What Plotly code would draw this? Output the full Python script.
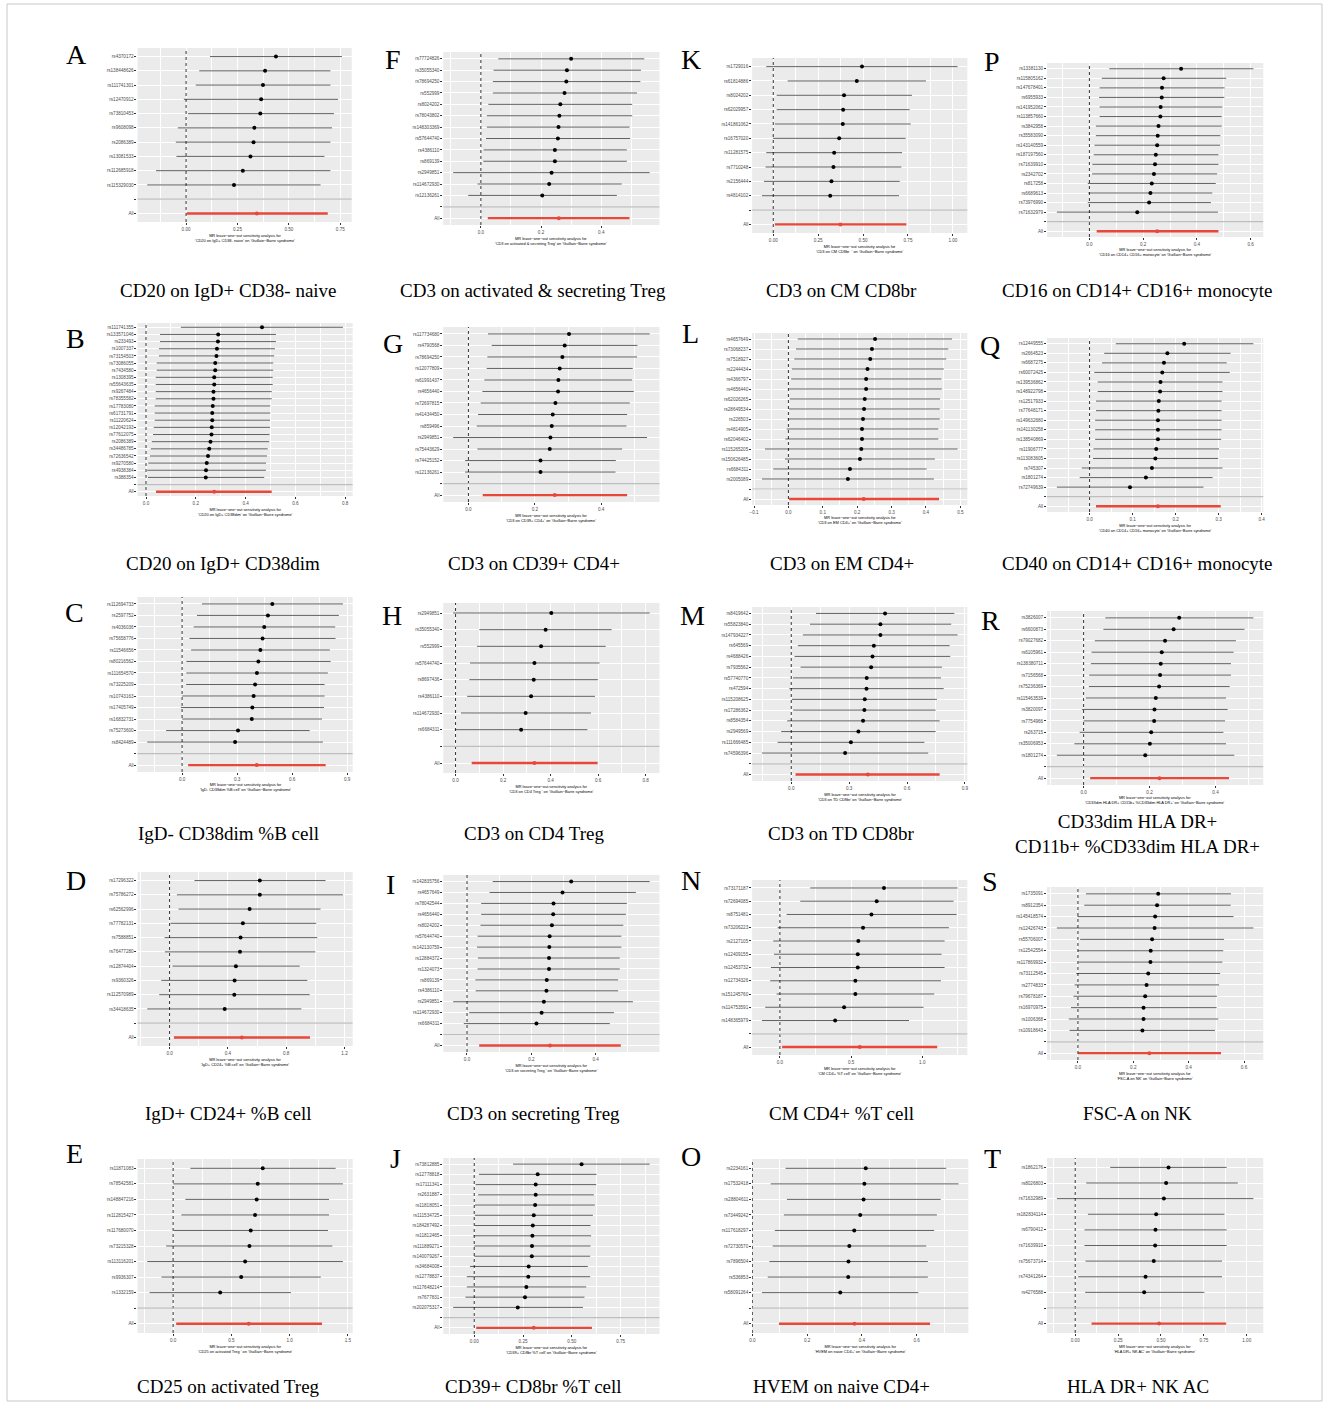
import plotly.graph_objects as go

W, H = 1328, 1405

# ---------------- data (leave-one-out estimates: b, lower CI, upper CI) ----------------
A_snp = ["rs4370172", "rs138448626", "rs111741301", "rs12470912", "rs73810453", "rs9608098", "rs2086389", "rs13081533", "rs112685918", "rs115329030"]
A_b = [0.437, 0.384, 0.374, 0.365, 0.361, 0.332, 0.328, 0.313, 0.276, 0.233]
A_lo = [0.116, 0.064, 0.047, -0.011, 0.010, -0.040, -0.050, -0.047, -0.146, -0.189]
A_hi = [0.758, 0.702, 0.702, 0.739, 0.719, 0.710, 0.702, 0.673, 0.702, 0.654]
A_all = [0.344, 0.003, 0.689]

B_snp = ["rs111741355", "rs133571046", "rs233493", "rs1007337", "rs73154503", "rs73086055", "rs7434580", "rs1308395", "rs55643635", "rs9267484", "rs78355582", "rs17783080", "rs61731791", "rs11220624", "rs12042193", "rs77612075", "rs2086389", "rs34486785", "rs72636542", "rs9270580", "rs4938384", "rs388354"]
B_b = [0.466, 0.290, 0.289, 0.285, 0.283, 0.278, 0.278, 0.274, 0.274, 0.271, 0.271, 0.268, 0.266, 0.266, 0.264, 0.263, 0.259, 0.254, 0.249, 0.244, 0.241, 0.240]
B_lo = [0.140, 0.056, 0.056, 0.052, 0.052, 0.043, 0.043, 0.039, 0.039, 0.039, 0.039, 0.035, 0.035, 0.035, 0.031, 0.028, 0.023, 0.019, 0.016, 0.009, 0.005, 0.008]
B_hi = [0.791, 0.522, 0.522, 0.518, 0.515, 0.511, 0.511, 0.509, 0.509, 0.505, 0.505, 0.499, 0.499, 0.498, 0.498, 0.496, 0.495, 0.489, 0.486, 0.482, 0.482, 0.475]
B_all = [0.274, 0.040, 0.505]

C_snp = ["rs112694733", "rs2597752", "rs4036036", "rs75658776", "rs11546656", "rs80216562", "rs111654570", "rs73225209", "rs10743163", "rs17405749", "rs16832731", "rs75273600", "rs8424489"]
C_b = [0.492, 0.468, 0.448, 0.439, 0.427, 0.416, 0.408, 0.398, 0.390, 0.383, 0.380, 0.305, 0.289]
C_lo = [0.108, 0.081, 0.063, 0.040, 0.049, 0.023, 0.023, 0.022, 0.000, -0.007, 0.000, -0.087, -0.190]
C_hi = [0.877, 0.855, 0.835, 0.837, 0.806, 0.810, 0.795, 0.777, 0.777, 0.774, 0.763, 0.696, 0.768]
C_all = [0.407, 0.033, 0.783]

D_snp = ["rs17296322", "rs75786272", "rs62562996", "rs77782131", "rs7588851", "rs76477280", "rs12874404", "rs9360326", "rs112570989", "rs34418635"]
D_b = [0.619, 0.619, 0.549, 0.503, 0.487, 0.483, 0.455, 0.446, 0.444, 0.378]
D_lo = [0.171, 0.050, 0.061, 0.007, -0.034, -0.032, 0.020, -0.057, -0.071, -0.153]
D_hi = [1.070, 1.189, 1.036, 1.006, 1.013, 1.000, 0.893, 0.945, 0.961, 0.904]
D_all = [0.496, 0.030, 0.963]

E_snp = ["rs11871083", "rs78542581", "rs148847216", "rs112815427", "rs117680070", "rs73215328", "rs113116201", "rs9936307", "rs1332159"]
E_b = [0.769, 0.726, 0.717, 0.703, 0.666, 0.655, 0.618, 0.584, 0.404]
E_lo = [0.148, 0.000, 0.105, 0.071, 0.006, -0.060, -0.222, -0.100, -0.202]
E_hi = [1.395, 1.457, 1.338, 1.338, 1.329, 1.366, 1.457, 1.267, 1.011]
E_all = [0.649, 0.026, 1.278]

F_snp = ["rs77724826", "rs35055340", "rs78694250", "rs552999", "rs8024202", "rs78043802", "rs148303369", "rs57644740", "rs4386110", "rs869139", "rs2949851", "rs114672930", "rs12136261"]
F_b = [0.300, 0.286, 0.284, 0.278, 0.264, 0.261, 0.258, 0.256, 0.246, 0.246, 0.235, 0.227, 0.204]
F_lo = [0.058, 0.042, 0.040, 0.040, 0.025, 0.020, 0.020, 0.017, 0.009, 0.008, -0.092, -0.011, -0.042]
F_hi = [0.543, 0.532, 0.530, 0.519, 0.503, 0.503, 0.494, 0.496, 0.485, 0.485, 0.561, 0.468, 0.452]
F_all = [0.259, 0.023, 0.494]

G_snp = ["rs117734680", "rs4790568", "rs78694250", "rs12077809", "rs61991437", "rs4656440", "rs72697815", "rs41434450", "rs859496", "rs2949851", "rs75443629", "rs74425152", "rs12136261"]
G_b = [0.303, 0.290, 0.283, 0.275, 0.271, 0.270, 0.262, 0.254, 0.251, 0.247, 0.245, 0.217, 0.217]
G_lo = [0.059, 0.070, 0.057, 0.055, 0.048, 0.042, 0.037, 0.029, 0.025, -0.046, 0.027, -0.010, -0.010]
G_hi = [0.546, 0.509, 0.508, 0.495, 0.493, 0.498, 0.486, 0.478, 0.476, 0.538, 0.463, 0.444, 0.443]
G_all = [0.260, 0.043, 0.478]

H_snp = ["rs2949851", "rs35055340", "rs552999", "rs57644740", "rs8697436", "rs4386110", "rs114672930", "rs6684311"]
H_b = [0.403, 0.379, 0.360, 0.332, 0.329, 0.318, 0.295, 0.276]
H_lo = [-0.010, 0.100, 0.090, 0.061, 0.058, 0.049, 0.023, -0.003]
H_hi = [0.817, 0.657, 0.632, 0.606, 0.599, 0.587, 0.570, 0.555]
H_all = [0.332, 0.068, 0.598]

I_snp = ["rs142835756", "rs4657649", "rs78042544", "rs4656440", "rs8024202", "rs57644740", "rs142130759", "rs12884372", "rs1324073", "rs869139", "rs4386110", "rs2949851", "rs114672930", "rs6684311"]
I_b = [0.324, 0.297, 0.269, 0.268, 0.264, 0.257, 0.256, 0.255, 0.255, 0.248, 0.247, 0.239, 0.232, 0.216]
I_lo = [0.080, 0.070, 0.044, 0.044, 0.042, 0.033, 0.031, 0.034, 0.033, 0.026, 0.027, -0.043, 0.007, -0.010]
I_hi = [0.568, 0.525, 0.497, 0.494, 0.486, 0.480, 0.480, 0.475, 0.475, 0.470, 0.470, 0.516, 0.457, 0.444]
I_all = [0.258, 0.038, 0.478]

J_snp = ["rs73812885", "rs12778818", "rs17111341", "rs2631887", "rs11818051", "rs111534725", "rs184287492", "rs11812465", "rs111889271", "rs140079267", "rs34684008", "rs12778837", "rs117648214", "rs7677831", "rs202075317"]
J_b = [0.550, 0.325, 0.315, 0.315, 0.312, 0.305, 0.300, 0.298, 0.296, 0.295, 0.279, 0.277, 0.267, 0.260, 0.223]
J_lo = [0.199, 0.024, 0.007, 0.019, 0.003, 0.003, 0.003, -0.003, 0.000, 0.000, -0.022, -0.038, -0.038, -0.045, -0.108]
J_hi = [0.899, 0.627, 0.625, 0.613, 0.618, 0.608, 0.596, 0.599, 0.596, 0.594, 0.582, 0.594, 0.574, 0.565, 0.557]
J_all = [0.305, 0.010, 0.603]

K_snp = ["rs1729016", "rs61814886", "rs8024202", "rs62029957", "rs141861062", "rs16757020", "rs11281575", "rs7710248", "rs2156444", "rs4814102"]
K_b = [0.494, 0.465, 0.394, 0.389, 0.387, 0.367, 0.339, 0.335, 0.324, 0.317]
K_lo = [-0.039, 0.080, 0.019, 0.019, 0.009, -0.002, -0.039, -0.043, -0.052, -0.063]
K_hi = [1.026, 0.850, 0.772, 0.759, 0.765, 0.737, 0.717, 0.713, 0.704, 0.700]
K_all = [0.374, 0.009, 0.741]

L_snp = ["rs4657649", "rs73068237", "rs7518927", "rs2244434", "rs4366797", "rs4656440", "rs62026265", "rs28649534", "rs226503", "rs4814905", "rs62046402", "rs115265205", "rs150626485", "rs6684311", "rs2005089"]
L_b = [0.252, 0.243, 0.238, 0.230, 0.226, 0.226, 0.222, 0.220, 0.217, 0.214, 0.214, 0.212, 0.208, 0.179, 0.173]
L_lo = [0.027, 0.022, 0.017, 0.010, 0.008, 0.002, 0.004, 0.002, -0.002, -0.005, -0.009, -0.068, -0.010, -0.044, -0.077]
L_hi = [0.476, 0.465, 0.459, 0.452, 0.445, 0.446, 0.441, 0.440, 0.440, 0.436, 0.436, 0.492, 0.426, 0.402, 0.423]
L_all = [0.219, 0.002, 0.438]

M_snp = ["rs8419642", "rs55823840", "rs147934227", "rs645569", "rs4688426", "rs7935562", "rs57740770", "rs472594", "rs115208625", "rs17286362", "rs8584354", "rs2949569", "rs111666485", "rs74596396"]
M_b = [0.486, 0.462, 0.462, 0.428, 0.421, 0.414, 0.391, 0.390, 0.381, 0.379, 0.372, 0.348, 0.309, 0.279]
M_lo = [0.128, 0.097, 0.060, 0.034, 0.017, 0.048, 0.009, -0.010, 0.003, 0.010, -0.021, -0.052, -0.071, -0.152]
M_hi = [0.845, 0.829, 0.862, 0.821, 0.824, 0.781, 0.776, 0.790, 0.755, 0.748, 0.769, 0.748, 0.690, 0.710]
M_all = [0.397, 0.022, 0.769]

N_snp = ["rs73171187", "rs72694085", "rs8751481", "rs73206223", "rs2127105", "rs12409155", "rs12453732", "rs12734326", "rs151245760", "rs114753591", "rs148365979"]
N_b = [0.731, 0.680, 0.643, 0.584, 0.551, 0.547, 0.547, 0.530, 0.530, 0.451, 0.388]
N_lo = [0.213, 0.143, 0.047, -0.016, -0.047, -0.042, -0.063, -0.068, -0.023, -0.103, -0.126]
N_hi = [1.248, 1.220, 1.241, 1.187, 1.157, 1.136, 1.157, 1.131, 1.084, 1.009, 0.907]
N_all = [0.561, 0.016, 1.105]

O_snp = ["rs2234161", "rs17532418", "rs28804611", "rs73449242", "rs117618297", "rs72730570", "rs7896504", "rs536853", "rs58091264"]
O_b = [0.414, 0.409, 0.406, 0.394, 0.372, 0.354, 0.351, 0.350, 0.321]
O_lo = [0.121, 0.067, 0.126, 0.115, 0.082, 0.074, 0.062, 0.056, 0.035]
O_hi = [0.708, 0.753, 0.688, 0.674, 0.664, 0.635, 0.641, 0.641, 0.606]
O_all = [0.373, 0.097, 0.649]

P_snp = ["rs13381130", "rs115805162", "rs147678401", "rs6955933", "rs141952062", "rs113857660", "rs3842958", "rs35583090", "rs143140559", "rs187197560", "rs71639910", "rs2342702", "rs817258", "rs6689613", "rs73976990", "rs71632979"]
P_b = [0.341, 0.276, 0.270, 0.269, 0.265, 0.264, 0.257, 0.254, 0.252, 0.247, 0.244, 0.240, 0.232, 0.227, 0.222, 0.178]
P_lo = [0.074, 0.046, 0.038, 0.036, 0.038, 0.038, 0.024, 0.024, 0.019, 0.016, 0.011, 0.010, -0.006, -0.004, -0.006, -0.121]
P_hi = [0.610, 0.509, 0.503, 0.502, 0.494, 0.492, 0.492, 0.487, 0.486, 0.480, 0.480, 0.475, 0.470, 0.457, 0.452, 0.478]
P_all = [0.252, 0.027, 0.480]

Q_snp = ["rs12449555", "rs2664523", "rs6687275", "rs60072425", "rs139536862", "rs148922798", "rs12517933", "rs77648171", "rs149632680", "rs141130258", "rs138540869", "rs11906777", "rs113083605", "rs745307", "rs1801274", "rs72749639"]
Q_b = [0.220, 0.181, 0.173, 0.169, 0.165, 0.164, 0.161, 0.160, 0.159, 0.159, 0.159, 0.155, 0.153, 0.145, 0.131, 0.094]
Q_lo = [0.061, 0.034, 0.029, 0.011, 0.019, 0.019, 0.015, 0.015, 0.013, 0.013, 0.013, 0.009, 0.008, -0.018, -0.023, -0.076]
Q_hi = [0.381, 0.328, 0.319, 0.326, 0.309, 0.309, 0.307, 0.307, 0.307, 0.307, 0.306, 0.301, 0.299, 0.309, 0.286, 0.265]
Q_all = [0.159, 0.015, 0.305]

R_snp = ["rs3826007", "rs6600873", "rs79027682", "rs6105961", "rs138380711", "rs7156568", "rs75236369", "rs115463539", "rs3820097", "rs7754966", "rs263715", "rs35006953", "rs1801274"]
R_b = [0.290, 0.273, 0.247, 0.237, 0.234, 0.232, 0.229, 0.219, 0.215, 0.214, 0.205, 0.201, 0.187]
R_lo = [0.066, 0.060, 0.034, 0.024, 0.022, 0.017, 0.016, 0.007, -0.005, 0.000, -0.012, -0.028, -0.081]
R_hi = [0.515, 0.488, 0.462, 0.455, 0.447, 0.447, 0.443, 0.432, 0.437, 0.429, 0.424, 0.432, 0.457]
R_all = [0.230, 0.020, 0.441]

S_snp = ["rs1735091", "rs8912354", "rs145418574", "rs12426743", "rs55706007", "rs12542554", "rs117869932", "rs73112545", "rs2774833", "rs79678187", "rs16970975", "rs1006368", "rs10918643"]
S_b = [0.290, 0.286, 0.279, 0.277, 0.268, 0.263, 0.262, 0.254, 0.248, 0.243, 0.237, 0.237, 0.233]
S_lo = [0.029, 0.023, -0.002, -0.076, 0.008, 0.000, 0.002, -0.006, -0.012, -0.016, -0.025, -0.033, -0.030]
S_hi = [0.553, 0.552, 0.562, 0.634, 0.528, 0.525, 0.522, 0.514, 0.510, 0.502, 0.501, 0.507, 0.495]
S_all = [0.258, 0.001, 0.517]

T_snp = ["rs1862176", "rs8026803", "rs71632989", "rs182834114", "rs6790412", "rs71639910", "rs75673714", "rs74341264", "rs4276588"]
T_b = [0.544, 0.530, 0.517, 0.472, 0.468, 0.466, 0.458, 0.410, 0.402]
T_lo = [0.204, 0.064, -0.107, 0.074, 0.054, 0.054, 0.060, 0.017, 0.058]
T_hi = [0.883, 0.948, 1.039, 0.870, 0.883, 0.883, 0.856, 0.856, 0.753]
T_all = [0.489, 0.095, 0.880]

OUTCOME = "Guillain\u2212Barre syndrome"

panels = [
    ("A", A_snp, A_b, A_lo, A_hi, A_all, "CD20 on IgD+ CD38- naive", "CD20 on IgD+ CD38- naive", 0.25, ".2f", (135, 48, 350, 222), (74, 55), (226, 290)),
    ("B", B_snp, B_b, B_lo, B_hi, B_all, "CD20 on IgD+ CD38dim", "CD20 on IgD+ CD38dim", 0.2, ".1f", (135, 323, 351, 496), (73, 338), (221, 563)),
    ("C", C_snp, C_b, C_lo, C_hi, C_all, "IgD- CD38dim %B cell", "IgD- CD38dim %B cell", 0.3, ".1f", (135, 597, 351, 772), (72, 612), (226, 833)),
    ("D", D_snp, D_b, D_lo, D_hi, D_all, "IgD+ CD24+ %B cell", "IgD+ CD24+ %B cell", 0.4, ".1f", (135, 872, 351, 1046), (73, 880), (226, 1113)),
    ("E", E_snp, E_b, E_lo, E_hi, E_all, "CD25 on activated Treg", "CD25 on activated Treg ", 0.5, ".1f", (135, 1159, 351, 1333), (72, 1153), (226, 1386)),
    ("F", F_snp, F_b, F_lo, F_hi, F_all, "CD3 on activated & secreting Treg", "CD3 on activated & secreting Treg", 0.2, ".1f", (442, 52, 659, 225), (391, 60), (532, 290)),
    ("G", G_snp, G_b, G_lo, G_hi, G_all, "CD3 on CD39+ CD4+", "CD3 on CD39+ CD4+", 0.2, ".1f", (442, 327, 659, 502), (391, 343), (533, 563)),
    ("H", H_snp, H_b, H_lo, H_hi, H_all, "CD3 on CD4 Treg", "CD3 on CD4 Treg ", 0.2, ".1f", (442, 603, 659, 773), (390, 615), (533, 833)),
    ("I", I_snp, I_b, I_lo, I_hi, I_all, "CD3 on secreting Treg", "CD3 on secreting Treg ", 0.2, ".1f", (442, 875, 659, 1052), (389, 884), (533, 1113)),
    ("J", J_snp, J_b, J_lo, J_hi, J_all, "CD39+ CD8br %T cell", "CD39+ CD8br %T cell", 0.25, ".2f", (442, 1158, 659, 1334), (394, 1158), (533, 1386)),
    ("K", K_snp, K_b, K_lo, K_hi, K_all, "CD3 on CM CD8br", "CD3 on CM CD8br  ", 0.25, ".2f", (752, 58, 968, 233), (691, 60), (842, 290)),
    ("L", L_snp, L_b, L_lo, L_hi, L_all, "CD3 on EM CD4+", "CD3 on EM CD4+", 0.1, ".1f", (752, 333, 968, 505), (690, 333), (842, 563)),
    ("M", M_snp, M_b, M_lo, M_hi, M_all, "CD3 on TD CD8br", "CD3 on TD CD8br", 0.3, ".1f", (752, 607, 968, 781), (692, 615), (842, 833)),
    ("N", N_snp, N_b, N_lo, N_hi, N_all, "CM CD4+ %T cell", "CM CD4+ %T cell", 0.5, ".1f", (752, 880, 968, 1055), (691, 880), (842, 1113)),
    ("O", O_snp, O_b, O_lo, O_hi, O_all, "HVEM on naive CD4+", "HVEM on naive CD4+", 0.2, ".1f", (752, 1159, 969, 1333), (691, 1156), (842, 1386)),
    ("P", P_snp, P_b, P_lo, P_hi, P_all, "CD16 on CD14+ CD16+ monocyte", "CD16 on CD14+ CD16+ monocyte", 0.2, ".1f", (1048, 63, 1265, 237), (993, 62), (1139, 290)),
    ("Q", Q_snp, Q_b, Q_lo, Q_hi, Q_all, "CD40 on CD14+ CD16+ monocyte", "CD40 on CD14+ CD16+ monocyte", 0.1, ".1f", (1048, 338, 1265, 512), (991, 345), (1139, 563)),
    ("R", R_snp, R_b, R_lo, R_hi, R_all, "CD33dim HLA DR+<br>CD11b+ %CD33dim HLA DR+", "CD33dim HLA DR+ CD11b+ %CD33dim HLA DR+", 0.2, ".1f", (1048, 611, 1265, 785), (991, 620), (1139, 834)),
    ("S", S_snp, S_b, S_lo, S_hi, S_all, "FSC-A on NK", "FSC-A on NK", 0.2, ".1f", (1048, 887, 1265, 1060), (991, 882), (1139, 1113)),
    ("T", T_snp, T_b, T_lo, T_hi, T_all, "HLA DR+ NK AC", "HLA DR+ NK AC", 0.25, ".2f", (1048, 1158, 1265, 1333), (993, 1158), (1139, 1386)),
]

SANS = "Liberation Sans, Arial, sans-serif"
SERIF = "Liberation Serif, Times New Roman, serif"
RED = "#E8473A"

fig = go.Figure()
layout = dict(
    width=W, height=H, autosize=False,
    margin=dict(l=0, r=0, t=0, b=0),
    paper_bgcolor="white", plot_bgcolor="#EBEBEB",
    showlegend=False,
)
shapes = []
annotations = []


def px_x(p):
    return p / W


def px_y(p):
    return 1 - p / H


for i, (key, snp, b, lo, hi, allv, caption, expo, dtick, fmt, box, lpos, cpos) in enumerate(panels, start=1):
    sfx = "" if i == 1 else str(i)
    xr, yr = "x" + sfx, "y" + sfx
    n = len(snp)
    pos = [n + 2 - k for k in range(n)]

    xs, ys = [], []
    for l, h, p in zip(lo, hi, pos):
        xs += [l, h, None]
        ys += [p, p, None]
    fig.add_trace(go.Scatter(x=xs, y=ys, mode="lines", line=dict(color="#505050", width=0.9),
                             xaxis=xr, yaxis=yr, hoverinfo="skip"))
    fig.add_trace(go.Scatter(x=[allv[1], allv[2]], y=[1, 1], mode="lines",
                             line=dict(color=RED, width=2.4), xaxis=xr, yaxis=yr, hoverinfo="skip"))
    fig.add_trace(go.Scatter(x=b, y=pos, mode="markers", marker=dict(color="black", size=4),
                             xaxis=xr, yaxis=yr, text=snp))
    fig.add_trace(go.Scatter(x=[allv[0]], y=[1], mode="markers", marker=dict(color=RED, size=4),
                             xaxis=xr, yaxis=yr))

    vmin = min(lo + [allv[1]])
    vmax = max(hi + [allv[2]])
    span = vmax - vmin
    xrange = [vmin - 0.05 * span, vmax + 0.05 * span]

    x0, y0, x1, y1 = box
    tickfont = dict(family=SANS, size=4.6, color="#4D4D4D")
    layout["xaxis" + sfx] = dict(
        domain=[px_x(x0), px_x(x1)], anchor=yr, range=xrange,
        tickmode="linear", tick0=0, dtick=dtick, tickformat=fmt,
        showgrid=True, gridcolor="white", gridwidth=1,
        minor=dict(tick0=0, dtick=dtick / 2, showgrid=True, gridcolor="white", gridwidth=0.5),
        zeroline=False, showline=False,
        ticks="outside", ticklen=2, tickwidth=0.5, tickcolor="#333333",
        tickfont=tickfont, fixedrange=True,
    )
    layout["yaxis" + sfx] = dict(
        domain=[px_y(y1), px_y(y0)], anchor=xr, range=[0.4, n + 2.6],
        tickmode="array", tickvals=[1, 2] + pos, ticktext=["All", ""] + snp,
        showgrid=True, gridcolor="white", gridwidth=1,
        zeroline=False, showline=False,
        ticks="outside", ticklen=2, tickwidth=0.5, tickcolor="#333333",
        tickfont=tickfont, fixedrange=True,
    )

    shapes.append(dict(type="line", xref=xr, yref=yr + " domain", x0=0, x1=0, y0=0, y1=1,
                       line=dict(color="black", width=0.8, dash="dot"), layer="above"))
    shapes.append(dict(type="line", xref=xr + " domain", yref=yr, x0=0, x1=1, y0=2, y1=2,
                       line=dict(color="#BEBEBE", width=1.2), layer="above"))

    annotations.append(dict(
        text="MR leave\u2212one\u2212out sensitivity analysis for<br>'" + expo + "' on '" + OUTCOME + "'",
        x=px_x((x0 + x1) / 2), y=px_y(y1 + 8.5), xref="paper", yref="paper",
        xanchor="center", yanchor="top", showarrow=False,
        font=dict(family=SANS, size=3.9, color="black"),
    ))
    annotations.append(dict(text=key, x=px_x(lpos[0]), y=px_y(lpos[1]), xref="paper", yref="paper",
                            xanchor="center", yanchor="middle", showarrow=False,
                            font=dict(family=SERIF, size=28, color="black")))
    annotations.append(dict(text=caption, x=px_x(cpos[0]), y=px_y(cpos[1]), xref="paper", yref="paper",
                            xanchor="center", yanchor="middle", showarrow=False,
                            font=dict(family=SERIF, size=19, color="black")))

shapes.append(dict(type="rect", xref="paper", yref="paper", x0=px_x(4), x1=px_x(1324),
                   y0=px_y(1401), y1=px_y(4), line=dict(color="#C8C8C8", width=1), layer="above"))

layout["shapes"] = shapes
layout["annotations"] = annotations
fig.update_layout(**layout)

fig.write_html("out.html", config={"displayModeBar": False},
               post_script="document.body.style.margin='0px';document.body.style.overflow='hidden';")
